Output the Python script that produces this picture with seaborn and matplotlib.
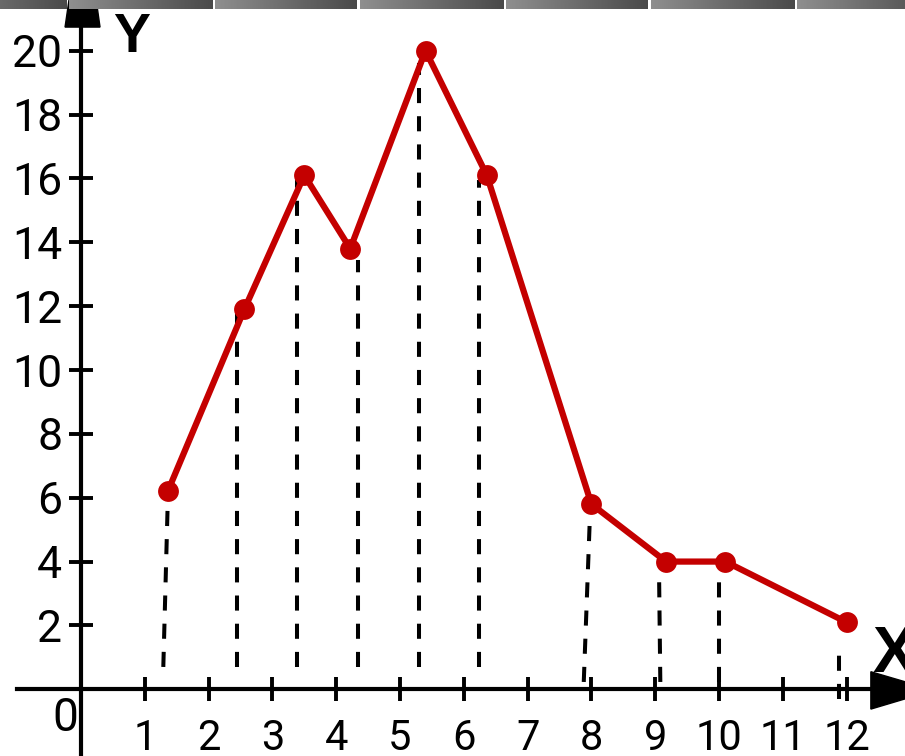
import numpy as np
import pandas as pd
import matplotlib
matplotlib.use("Agg")
import matplotlib.pyplot as plt
from matplotlib.patches import Polygon
import seaborn as sns

# ---- data ----
x_vals = [1.36, 2.56, 3.50, 4.22, 5.40, 6.36, 8.00, 9.17, 10.10, 12.00]
y_vals = [6.2, 11.9, 16.1, 13.8, 20.0, 16.1, 5.8, 4.0, 4.0, 2.1]

# dashed drop lines (top / bottom ends)
drop_top_x = [1.36, 2.44, 3.39, 4.34, 5.29, 6.24, 7.98, 9.06, 10.00, 11.88]
drop_bot_x = [1.29, 2.44, 3.39, 4.34, 5.29, 6.24, 7.88, 9.08, 10.00, 11.88]
drop_top_y = [5.9, 12.1, 16.1, 13.45, 19.6, 15.95, 5.6, 3.65, 3.5, 1.23]
drop_bot_y = [0.7, 0.7, 0.7, 0.7, 0.7, 0.7, 0.23, 0.23, 0.23, -0.3]

x_ticks = list(range(1, 13))
y_ticks = list(range(2, 21, 2))

df = pd.DataFrame({"x": x_vals, "y": y_vals})

RED = "#c40000"

fig = plt.figure(figsize=(9.05, 7.56), dpi=100)
ax = fig.add_axes([0, 0, 1, 1])
ax.set_facecolor("white")

# dashed drop lines
for bx, tx, by, ty in zip(drop_bot_x, drop_top_x, drop_bot_y, drop_top_y):
    ax.plot([bx, tx], [by, ty], color="black", lw=2.9, dashes=(3.75, 3.25), zorder=2)

# red line with markers
sns.lineplot(data=df, x="x", y="y", sort=False, color=RED, lw=4.5,
             marker="o", markersize=15, markeredgecolor=RED,
             markeredgewidth=0, ax=ax, zorder=4)

ax.set_xlim(-1.2696, 12.915)
ax.set_ylim(-2.089, 21.588)
ax.set_xlabel("")
ax.set_ylabel("")

# axes through origin
for s in ["top", "right"]:
    ax.spines[s].set_visible(False)
ax.spines["left"].set_position(("data", 0))
ax.spines["bottom"].set_position(("data", 0))
ax.spines["left"].set_linewidth(3.0)
ax.spines["bottom"].set_linewidth(3.0)
ax.spines["left"].set_bounds(-2.1, 20.8)
ax.spines["bottom"].set_bounds(-1.0, 12.45)

ax.set_xticks(x_ticks)
ax.set_yticks(y_ticks)
ax.set_xticklabels([str(v) for v in x_ticks])
ax.set_yticklabels([str(v) for v in y_ticks])
ax.tick_params(axis="both", direction="inout", length=17, width=2.8, color="black")
ax.tick_params(axis="x", pad=12, labelsize=30)
ax.tick_params(axis="y", pad=5, labelsize=32)
for lab in ax.get_xticklabels() + ax.get_yticklabels():
    lab.set_family("Roboto")

# arrow heads
ax.add_patch(Polygon([(-0.25, 20.74), (0.298, 20.74), (0.23, 21.7), (-0.18, 21.7)],
                     closed=True, color="black", zorder=5, clip_on=False))
ax.add_patch(Polygon([(12.38, 0.55), (12.38, -0.62), (13.37, -0.03)],
                     closed=True, color="black", zorder=5, clip_on=False))

# axis letters and origin
ax.text(0.50, 19.96, "Y", family="Liberation Sans", fontweight="bold",
        fontsize=40, ha="left", va="baseline", zorder=6)
ax.text(12.40, 0.54, "X", family="Liberation Sans", fontweight="bold",
        fontsize=47, ha="left", va="baseline", zorder=6)
ax.text(-0.25, -0.9, "0", family="Roboto", fontsize=33, ha="center", va="center")

# grey strip at top
bar = fig.add_axes([0, (756 - 9) / 756, 1, 9 / 756])
bar.set_xlim(0, 905)
bar.set_ylim(0, 1)
bar.axis("off")
grad = np.linspace(0.56, 0.29, 256)[None, :]
segs = [(-77, 66), (69, 212), (215, 357), (360, 503), (506, 648), (651, 794), (797, 940)]
for a, b in segs:
    bar.imshow(grad, cmap="gray", vmin=0, vmax=1, extent=(a, b, 0, 1),
               aspect="auto", interpolation="bilinear")
bar.set_xlim(0, 905)

fig.savefig("out.png", dpi=100)
